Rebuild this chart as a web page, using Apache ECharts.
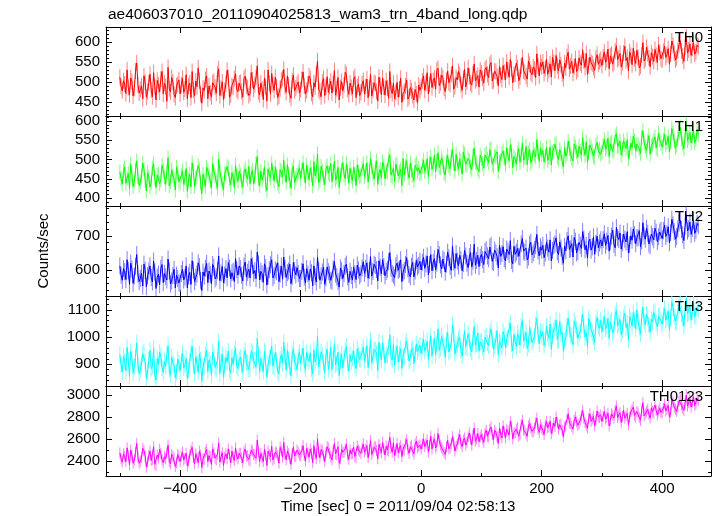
<!DOCTYPE html>
<html>
<head>
<meta charset="utf-8">
<script src="https://cdn.jsdelivr.net/npm/echarts@6/dist/echarts.min.js"></script>
<style>
html,body{margin:0;padding:0;background:#fff;}
#chart{width:717px;height:516px;}
</style>
</head>
<body>
<div id="chart"></div>
<script>
// ---- Data ----
const binStart = -500;   // time of first bin [sec]
const binWidth = 2;      // bin width [sec]

const panelNames = ["TH0", "TH1", "TH2", "TH3", "TH0123"];
const panelColors = ["#ff0000", "#00ff00", "#0000ff", "#00ffff", "#ff00ff"];
const errColors = ["#ff8080", "#80ff80", "#8080ff", "#80ffff", "#ff80ff"];
const errHalf = [20, 19, 25, 30, 50];   // typical 1-sigma error bar of each band
const yMins = [415, 380, 524, 820, 2264];
const yMaxs = [637, 613, 787, 1151, 3082];
const ySplits = [5, 5, 3, 3, 4];
const yMinorSplits = [5, 5, 5, 5, 2];
const xMin = -523, xMax = 481;

const th0 = [
512,489,478,503,495,471,530,486,468,510,501,465,484,527,547,493,472,481,490,458,515,499,462,476,498,519,480,463,523,488,455,504,492,475,507,526,470,497,489,452,536,483,475,511,500,469,461,490,494,505,
470,493,509,474,482,518,458,490,497,461,526,480,466,502,488,535,503,469,447,485,479,506,515,458,490,473,463,498,501,487,472,519,532,466,484,500,456,478,495,529,511,462,468,491,487,508,520,481,476,497,
499,477,462,508,514,490,486,466,471,523,505,482,493,511,540,475,468,497,483,456,510,488,452,530,496,470,521,494,479,512,488,461,465,483,504,509,531,489,474,515,492,468,459,503,517,478,485,494,500,472,
481,506,525,490,470,479,494,515,508,472,463,498,487,520,552,481,476,463,499,509,466,487,513,474,489,502,472,495,528,467,483,511,455,486,501,478,492,524,518,482,469,497,486,470,507,513,461,488,495,466,
474,495,503,470,488,507,461,484,519,465,480,498,496,476,452,512,491,468,510,487,467,503,485,459,526,480,471,497,458,474,499,462,482,509,449,471,476,490,505,457,463,486,478,466,455,481,470,448,492,479,
488,502,515,479,497,523,470,494,521,486,503,510,482,529,534,491,498,517,511,485,476,504,527,498,494,519,540,482,489,511,505,526,518,493,479,509,531,488,500,535,514,497,492,520,545,503,508,516,487,530,
522,509,497,531,536,519,511,543,548,502,503,527,526,514,490,538,517,506,541,524,505,550,529,512,556,533,498,519,520,547,535,503,512,540,561,528,524,515,507,552,544,523,518,537,532,511,570,539,515,548,
538,550,521,533,557,519,530,545,512,561,549,528,566,539,527,555,543,520,508,547,535,563,574,532,540,551,522,538,558,526,531,560,547,542,580,553,536,571,519,540,562,549,545,536,529,559,568,544,551,556,
541,562,575,549,556,582,533,565,569,544,548,577,590,556,560,571,537,548,572,589,553,561,527,575,566,543,584,558,546,579,561,535,540,567,598,552,557,586,570,560,538,573,563,551,581,566,549,592,574,558,
555,576,589,561,568,583,544,570,602,591,571,555,560,578,593,603,577,565,551,587,612,572,580,595,566,584,598,569,575,592,588];
const th1 = [
468,451,437,470,481,439,452,464,425,488,462,430,445,473,497,456,433,442,458,491,476,447,419,466,455,429,440,478,489,452,428,460,463,438,447,485,472,455,436,469,505,432,443,474,458,449,421,480,466,443,
440,459,471,436,453,477,418,448,462,430,492,469,431,453,456,485,474,440,412,462,447,431,480,472,459,445,427,490,468,458,441,426,502,471,450,437,423,463,465,482,478,449,435,466,452,428,486,458,444,470,
461,444,429,467,476,458,450,482,438,463,472,437,455,491,508,449,433,470,447,459,480,435,420,476,462,452,491,466,445,481,458,439,430,474,471,455,498,462,441,487,463,446,426,473,483,441,452,460,468,479,
451,473,492,458,440,486,466,448,479,462,432,495,458,470,515,441,447,483,470,452,436,476,484,465,461,490,443,469,496,447,455,480,428,460,474,492,462,451,489,468,439,478,457,445,480,463,433,487,467,455,
458,477,489,456,470,492,442,468,503,481,463,450,479,497,436,466,475,452,494,484,450,471,468,499,512,460,455,478,444,489,485,458,467,475,433,503,461,482,497,466,452,491,472,459,446,485,490,470,478,463,
466,484,498,470,481,502,455,491,507,475,486,512,468,496,518,480,479,505,493,466,460,495,511,483,476,508,526,490,470,514,489,477,502,497,463,520,515,488,484,503,497,481,474,509,530,494,491,476,469,512,
503,490,478,512,517,501,492,526,529,488,483,509,507,520,469,494,498,515,523,503,486,531,510,497,538,522,479,508,501,489,516,528,493,511,543,499,505,534,487,518,526,492,499,525,513,507,552,519,496,530,
512,524,494,509,531,498,505,533,486,518,522,540,541,507,500,526,516,495,481,531,509,515,548,529,514,503,497,541,533,520,506,535,522,512,557,528,511,546,493,517,538,531,520,509,504,537,545,522,527,514,
519,538,552,527,533,555,508,541,546,521,525,560,567,534,536,548,512,526,549,538,529,552,503,519,543,531,561,549,522,540,538,528,516,557,575,544,533,522,547,562,514,535,540,550,559,530,526,568,551,543,
533,551,566,538,545,560,520,546,580,569,548,531,537,555,571,584,554,541,528,563,592,549,557,570,543,560,577,544,552,579,565];
const th2 = [
612,585,570,604,595,572,630,598,558,620,603,561,582,611,645,588,566,576,590,553,617,599,551,583,597,612,578,565,626,594,546,579,588,557,605,616,563,590,580,571,632,597,559,568,584,602,548,585,575,562,
561,590,602,571,579,612,548,583,593,558,627,600,566,579,588,621,610,569,540,594,582,605,619,563,597,587,560,616,608,574,580,598,641,569,591,610,562,585,604,577,622,606,574,592,596,566,633,601,585,612,
604,585,568,611,623,579,593,602,577,633,612,590,598,575,652,618,571,596,589,564,618,607,556,583,601,615,630,577,584,600,595,621,566,588,611,573,638,604,578,592,597,617,560,581,622,598,586,607,590,575,
575,596,618,579,562,604,589,570,603,592,554,612,581,565,637,598,570,583,594,608,558,577,609,595,586,570,567,603,625,588,580,566,550,606,598,575,590,611,617,580,564,596,584,571,608,589,572,614,600,583,
589,606,624,590,605,621,576,598,639,582,596,617,613,601,568,627,608,589,630,610,583,596,602,624,651,605,590,585,578,612,620,599,603,630,566,593,598,616,636,604,587,580,611,622,580,597,628,609,614,625,
600,623,637,605,618,641,586,616,645,598,622,633,601,620,660,645,615,603,632,628,594,617,652,636,611,599,670,624,605,648,626,612,643,630,598,619,657,641,620,607,639,651,609,626,675,614,628,643,610,637,
645,630,616,654,659,641,633,667,672,625,622,658,650,639,606,672,640,648,668,633,627,661,655,645,686,628,618,669,646,652,663,640,637,676,692,655,651,664,629,638,675,681,644,650,660,671,704,656,641,668,
658,672,636,649,681,664,652,688,627,657,671,676,694,653,645,682,664,640,620,669,656,686,700,660,662,677,638,695,684,650,654,681,672,663,712,690,659,672,635,684,690,658,668,697,646,678,699,665,679,688,
670,689,706,672,684,701,655,683,699,716,675,665,724,695,689,708,661,680,705,690,682,712,650,674,700,687,720,703,677,694,694,715,668,685,738,699,690,722,707,676,671,705,697,688,722,710,683,697,711,716,
692,715,731,698,706,726,680,709,748,732,712,690,698,720,737,745,718,703,686,728,760,714,721,740,704,722,744,707,716,736,730];
const th3 = [
935,898,872,930,910,876,962,915,855,947,921,868,890,925,978,902,866,880,903,939,945,908,848,872,915,951,884,893,958,861,842,920,899,944,930,887,870,912,892,935,968,880,861,926,905,895,850,871,918,903,
876,910,940,887,898,921,847,879,912,942,965,896,865,928,903,870,938,915,838,890,889,934,952,873,916,901,860,945,930,888,882,913,985,866,907,937,852,895,925,908,949,880,869,924,899,941,958,893,884,917,
926,895,870,932,951,906,908,881,882,948,940,913,915,889,995,936,873,920,897,874,948,942,852,901,921,925,967,893,888,944,912,876,864,917,935,903,980,928,878,951,918,890,856,937,955,909,901,880,927,945,
903,928,960,897,882,943,920,911,942,884,866,952,908,925,1002,890,889,946,931,907,870,933,955,881,914,962,880,919,972,899,905,944,858,912,938,886,922,950,965,903,875,935,910,922,948,898,884,957,935,918,
918,945,963,912,935,968,888,930,990,906,927,955,952,940,876,981,945,917,978,950,905,935,932,962,1008,926,915,973,897,940,966,908,938,957,884,931,927,969,985,944,912,925,950,960,902,938,975,947,958,970,
940,965,992,948,962,985,918,960,1005,930,968,992,935,975,1030,950,957,1003,980,962,925,988,1018,945,950,977,1045,1010,938,958,972,992,1000,950,930,981,1022,965,960,1012,988,957,945,996,1038,970,975,1015,948,982,
985,962,946,1000,1004,978,968,1015,1030,990,955,968,992,1024,935,985,978,960,1020,1003,960,992,997,1030,1052,975,950,1010,983,966,1012,998,970,1040,1060,987,995,1018,958,972,1035,1006,980,990,1002,1045,1068,1010,975,1022,
1002,1020,968,990,1040,1012,995,1048,955,1005,1025,1035,1062,990,985,1058,1010,1018,948,985,998,1040,1070,1025,1008,1002,972,1060,1045,1030,996,1012,1022,1050,1085,1038,1000,1016,965,1068,1055,1028,1015,1000,980,1052,1072,1040,1032,1062,
1020,1048,1075,1030,1040,1068,995,1055,1060,1015,1028,1082,1098,1042,1050,1065,1008,1025,1072,1088,1035,1050,990,1076,1062,1040,1090,1062,1030,1100,1058,1035,1012,1072,1110,1058,1045,1084,1070,1045,1018,1066,1055,1090,1095,1052,1038,1075,1080,1060,
1048,1080,1105,1062,1068,1095,1025,1072,1130,1108,1075,1058,1052,1090,1118,1122,1085,1070,1040,1102,1142,1085,1090,1115,1062,1094,1125,1075,1078,1110,1100];
const th0123 = [
2475,2420,2390,2465,2440,2395,2520,2450,2365,2500,2455,2380,2410,2480,2560,2435,2380,2400,2430,2515,2495,2445,2345,2390,2450,2490,2405,2415,2530,2370,2360,2455,2425,2505,2470,2410,2385,2440,2420,2475,2545,2395,2375,2460,2440,2425,2350,2385,2460,2445,
2395,2445,2480,2410,2425,2470,2355,2400,2455,2495,2525,2430,2375,2465,2430,2385,2490,2455,2340,2420,2415,2480,2505,2395,2450,2440,2370,2510,2475,2425,2410,2460,2565,2390,2440,2475,2360,2435,2465,2420,2510,2455,2385,2490,2435,2405,2520,2445,2420,2470,
2470,2430,2385,2480,2510,2445,2450,2415,2400,2500,2490,2460,2455,2425,2590,2485,2395,2470,2430,2395,2505,2455,2360,2490,2460,2440,2535,2410,2420,2480,2475,2450,2380,2525,2495,2435,2570,2460,2410,2490,2465,2420,2370,2470,2525,2445,2440,2500,2480,2455,
2445,2490,2540,2450,2400,2515,2475,2435,2510,2470,2385,2540,2460,2425,2600,2485,2430,2505,2495,2450,2395,2475,2530,2520,2470,2440,2410,2495,2560,2465,2455,2530,2380,2420,2505,2480,2480,2510,2550,2455,2415,2500,2465,2470,2525,2440,2430,2535,2500,2485,
2470,2515,2555,2480,2505,2540,2430,2500,2585,2460,2490,2525,2530,2495,2420,2550,2515,2475,2570,2510,2455,2535,2500,2490,2615,2520,2480,2565,2450,2500,2560,2475,2520,2540,2440,2510,2495,2560,2595,2505,2470,2530,2545,2490,2465,2555,2580,2520,2535,2545,
2510,2555,2600,2530,2560,2590,2480,2545,2625,2510,2570,2600,2520,2540,2650,2585,2545,2520,2500,2480,2460,2530,2590,2510,2520,2560,2620,2575,2490,2535,2555,2600,2640,2560,2530,2590,2610,2545,2570,2620,2655,2600,2545,2635,2700,2580,2600,2650,2575,2620,
2640,2600,2570,2655,2680,2625,2620,2690,2710,2640,2595,2680,2660,2620,2560,2700,2645,2610,2720,2665,2610,2690,2675,2635,2760,2715,2600,2660,2655,2690,2705,2625,2640,2730,2770,2685,2680,2650,2625,2720,2740,2700,2670,2665,2700,2745,2790,2690,2660,2730,
2700,2680,2640,2725,2760,2700,2710,2760,2650,2695,2745,2715,2800,2750,2690,2730,2735,2680,2620,2710,2720,2775,2830,2745,2740,2715,2690,2770,2800,2755,2725,2740,2770,2810,2860,2790,2750,2725,2700,2785,2830,2760,2780,2805,2720,2770,2855,2800,2795,2820,
2760,2805,2850,2780,2800,2835,2720,2770,2830,2815,2790,2860,2900,2795,2820,2840,2750,2805,2860,2790,2810,2835,2730,2800,2845,2870,2890,2815,2800,2850,2840,2795,2770,2860,2930,2810,2830,2850,2870,2825,2790,2880,2850,2835,2910,2860,2820,2855,2880,2840,
2840,2880,2920,2855,2870,2905,2800,2840,2960,2930,2890,2870,2850,2900,2945,2960,2910,2880,2860,2925,3000,2900,2930,2965,2890,2935,2985,2905,2920,2970,2950];

const titleText = "ae406037010_20110904025813_wam3_trn_4band_long.qdp";
const xName = "Time [sec] 0 = 2011/09/04 02:58:13";
const yName = "Counts/sec";

// ---- Layout ----
const FONT = "Liberation Sans, Arial, Helvetica, sans-serif";
const gridTops = [27, 116, 206, 296, 386];
const gridHeights = [89, 90, 90, 90, 90];
const gridLeft = 106, gridWidth = 605;
const allSeries = [th0, th1, th2, th3, th0123];

function fmt(v) {
  const s = String(Math.abs(v));
  return v < 0 ? "\u2212" + s : s;
}

const grids = [], xAxes = [], yAxes = [], series = [], graphics = [];
for (let k = 0; k < 5; k++) {
  grids.push({left: gridLeft, top: gridTops[k], width: gridWidth, height: gridHeights[k], containLabel: false});
  const axLine = {show: true, onZero: false, lineStyle: {color: "#000", width: 1}};
  const tick = {show: true, inside: true, length: 6, lineStyle: {color: "#000", width: 1}};
  const minor = (n) => ({show: true, splitNumber: n, length: 3, lineStyle: {color: "#000", width: 1}});
  ["bottom", "top"].forEach((pos, j) => {
    xAxes.push({
      type: "value", gridIndex: k, position: pos, min: xMin, max: xMax, splitNumber: 5,
      axisLine: axLine, axisTick: tick, minorTick: minor(2), splitLine: {show: false},
      axisLabel: {show: (k === 4 && j === 0), formatter: fmt, color: "#000", fontSize: 15, fontFamily: FONT,
        margin: 5, showMinLabel: false, showMaxLabel: false}
    });
  });
  ["left", "right"].forEach((pos, j) => {
    yAxes.push({
      type: "value", gridIndex: k, position: pos, min: yMins[k], max: yMaxs[k], splitNumber: ySplits[k],
      axisLine: axLine, axisTick: tick, minorTick: minor(yMinorSplits[k]), splitLine: {show: false},
      axisLabel: {show: j === 0, formatter: fmt, color: "#000", fontSize: 15, fontFamily: FONT,
        margin: 6, showMinLabel: false, showMaxLabel: false}
    });
  });
  const vals = allSeries[k];
  const pts = vals.map((v, i) => [binStart + i * binWidth, v]);
  const e = errHalf[k];
  const ecol = errColors[k];
  series.push({
    type: "custom", xAxisIndex: 2 * k, yAxisIndex: 2 * k, silent: true, animation: false, z: 1,
    data: pts, clip: true,
    renderItem: function (params, api) {
      const x = api.value(0), y = api.value(1);
      const p1 = api.coord([x, y - e]), p2 = api.coord([x, y + e]);
      return {type: "line", shape: {x1: p1[0], y1: p1[1], x2: p2[0], y2: p2[1]},
        style: {stroke: ecol, lineWidth: 1}};
    }
  });
  series.push({
    type: "line", xAxisIndex: 2 * k, yAxisIndex: 2 * k, z: 2,
    data: pts,
    showSymbol: false, symbol: "none", lineStyle: {color: panelColors[k], width: 1},
    itemStyle: {color: panelColors[k]}, animation: false, silent: true
  });
  graphics.push({
    type: "text", x: 703, y: gridTops[k] + 11, z: 100,
    style: {text: panelNames[k], font: "15px " + FONT, fill: "#000", textAlign: "right", textVerticalAlign: "middle"}
  });
}
graphics.push({type: "text", x: 108, y: 15,
  style: {text: titleText, font: "15.5px " + FONT, fill: "#000", textAlign: "left", textVerticalAlign: "middle"}});
graphics.push({type: "text", x: 398, y: 507,
  style: {text: xName, font: "15px " + FONT, fill: "#000", textAlign: "center", textVerticalAlign: "middle"}});
graphics.push({type: "text", x: 44, y: 251, rotation: Math.PI / 2,
  style: {text: yName, font: "15px " + FONT, fill: "#000", textAlign: "center", textVerticalAlign: "middle"}});

const chart = echarts.init(document.getElementById("chart"), null, {renderer: "canvas"});
chart.setOption({
  animation: false,
  backgroundColor: "#fff",
  grid: grids, xAxis: xAxes, yAxis: yAxes, series: series,
  graphic: graphics
});
</script>
</body>
</html>
